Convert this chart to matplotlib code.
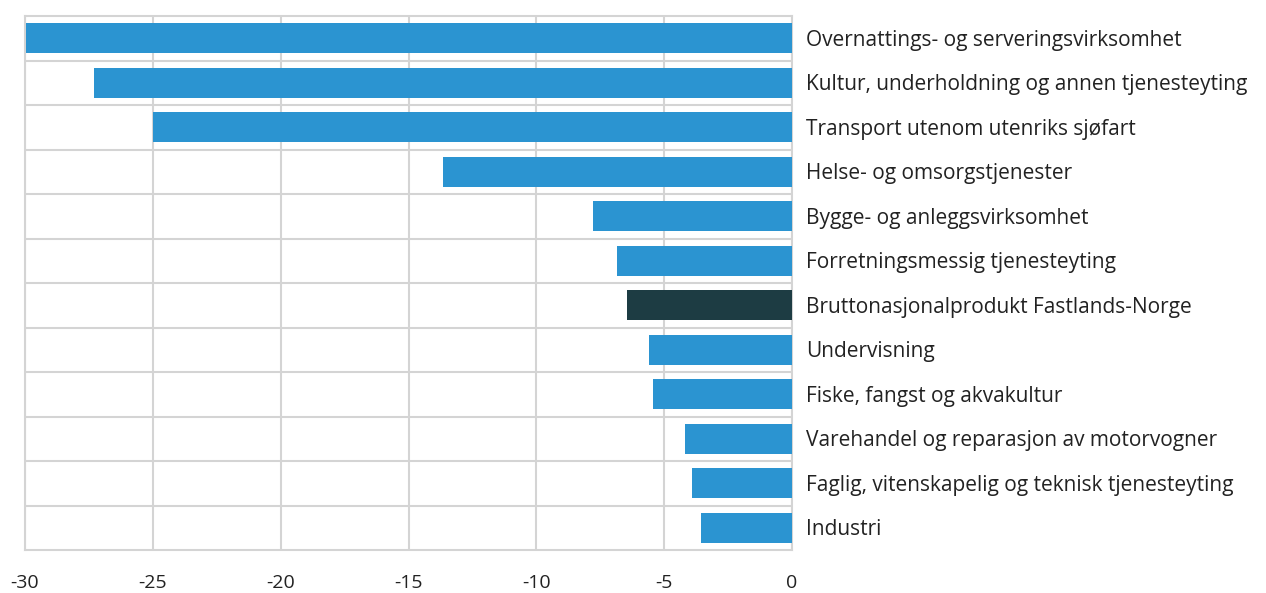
import matplotlib.pyplot as plt

categories = [
    "Overnattings- og serveringsvirksomhet",
    "Kultur, underholdning og annen tjenesteyting",
    "Transport utenom utenriks sjøfart",
    "Helse- og omsorgstjenester",
    "Bygge- og anleggsvirksomhet",
    "Forretningsmessig tjenesteyting",
    "Bruttonasjonalprodukt Fastlands-Norge",
    "Undervisning",
    "Fiske, fangst og akvakultur",
    "Varehandel og reparasjon av motorvogner",
    "Faglig, vitenskapelig og teknisk tjenesteyting",
    "Industri",
]
values = [-29.95, -27.3, -25.0, -13.65, -7.8, -6.85, -6.45, -5.6, -5.45, -4.2, -3.9, -3.55]
xticks = [-30, -25, -20, -15, -10, -5, 0]

plt.rcParams['font.family'] = ['Open Sans', 'DejaVu Sans']

fig = plt.figure(figsize=(12.66, 5.93), dpi=100)
ax = fig.add_axes([25/1266, 1-550/593, (792-25)/1266, (550-16)/593])

colors = ['#1d3c43' if c.startswith('Brutto') else '#2b94d1' for c in categories]
ypos = list(range(len(categories)))
ax.barh(ypos, values, height=0.67, color=colors, zorder=3)

ax.set_xlim(-30, 0)
ax.set_ylim(len(categories) - 0.5, -0.5)
ax.set_xticks(xticks)
ax.set_xticklabels([str(t) for t in xticks], fontsize=14, color='#222222')
ax.set_yticks([y + 0.5 for y in ypos[:-1]], minor=True)
ax.set_yticks([])
ax.tick_params(axis='x', length=0, pad=17)
ax.tick_params(axis='y', which='both', length=0)
ax.grid(axis='x', color='#d4d4d4', linewidth=1.5, zorder=0)
ax.grid(axis='y', which='minor', color='#d4d4d4', linewidth=1.5, zorder=0)
for s in ax.spines.values():
    s.set_color('#d4d4d4')
    s.set_linewidth(1.5)

for y, c in zip(ypos, categories):
    ax.text(1.0 + 14/767, y + 0.05, c, transform=ax.get_yaxis_transform(), va='center', ha='left',
            fontsize=15, color='#222222')

fig.savefig('out.png', dpi=100)
